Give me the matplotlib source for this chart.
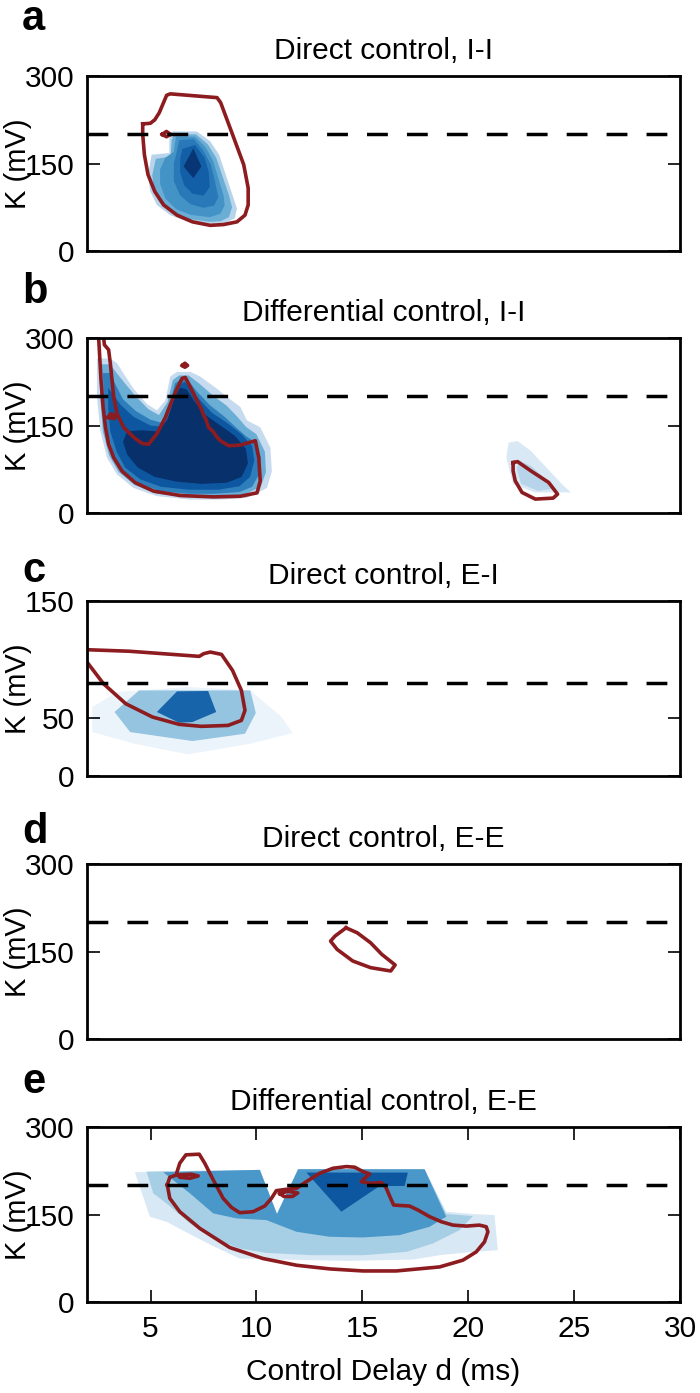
import matplotlib.pyplot as plt
import numpy as np

plt.rcParams['font.family'] = ['Liberation Sans', 'DejaVu Sans']

# shared x axis (control delay d, ms)
d_range = [2, 30]
d_ticks = [5, 10, 15, 20, 25, 30]

letters = ['a', 'b', 'c', 'd', 'e']
titles = ['Direct control, I-I', 'Differential control, I-I', 'Direct control, E-I',
          'Direct control, E-E', 'Differential control, E-E']
k_max = [300, 300, 150, 300, 300]
k_ticks = [[0, 150, 300], [0, 150, 300], [0, 50, 150], [0, 150, 300], [0, 150, 300]]
k_threshold = [200, 200, 80, 200, 200]

# ---- panel a: direct control I-I ----
a_levels = [0.3, 0.5, 0.62, 0.72, 0.82, 0.98]
a_fills = [
    [(6.04, 205), (7.19, 205), (7.82, 188), (8.24, 165), (8.56, 130), (8.87, 96), (9.08, 73),
     (8.98, 56), (8.45, 47), (7.82, 45.4), (6.77, 50), (5.93, 61.5), (5.30, 79), (4.99, 102),
     (4.88, 130), (5.05, 165), (5.89, 168), (5.89, 194), (6.04, 205)],
    [(6.1, 200), (7.15, 200), (7.7, 183), (8.1, 160), (8.4, 128), (8.7, 96), (8.85, 75), (8.7, 58),
     (8.3, 51), (7.8, 50), (6.8, 55), (6.0, 66), (5.45, 82), (5.15, 105), (5.08, 130), (5.25, 158),
     (5.95, 162), (6.0, 190), (6.1, 200)],
    [(6.2, 196), (7.1, 196), (7.6, 178), (7.95, 155), (8.2, 125), (8.45, 95), (8.5, 78), (8.3, 64),
     (7.8, 58), (6.9, 62), (6.2, 72), (5.7, 90), (5.45, 115), (5.45, 140), (5.7, 160), (6.1, 170),
     (6.2, 196)],
    [(6.35, 190), (7.05, 192), (7.5, 172), (7.85, 148), (8.05, 118), (8.2, 92), (8.0, 78), (7.5, 74),
     (6.9, 80), (6.4, 95), (6.1, 120), (6.1, 150), (6.25, 172), (6.35, 190)],
    [(6.5, 175), (7.1, 182), (7.55, 160), (7.75, 135), (7.8, 110), (7.5, 95), (7.0, 98), (6.6, 112),
     (6.4, 135), (6.4, 158), (6.5, 175)],
    [(6.56, 145), (7.02, 176), (7.40, 145), (7.02, 125), (6.56, 145)],
]
a_red = [
    [(4.63, 218), (4.99, 219), (5.20, 225), (5.41, 237), (5.76, 267), (5.93, 269.5), (8.14, 263),
     (8.31, 254.5), (8.87, 200), (9.40, 148), (9.61, 108), (9.61, 79), (9.46, 61.5), (9.08, 50),
     (8.45, 45.4), (7.82, 44), (6.98, 50), (6.25, 61.5), (5.62, 79), (5.20, 102), (4.88, 131),
     (4.71, 165), (4.63, 200), (4.63, 218)],
    [(5.55, 200), (5.75, 205), (5.95, 200), (5.75, 196), (5.55, 200)],
]

# ---- panel b: differential control I-I ----
b_levels = [0.25, 0.5, 0.7, 0.85, 1.0, 0.15, 0.3]
b_fills = [
    [(2.47, 265), (3.10, 265), (3.42, 257), (3.73, 239), (4.20, 213), (4.83, 187), (5.30, 176),
     (5.70, 193), (5.93, 234), (6.25, 242), (6.88, 242), (7.35, 234), (8.14, 213), (8.61, 199),
     (9.24, 182), (9.55, 159), (10.18, 147), (10.66, 112), (10.73, 72), (10.50, 43), (9.55, 26),
     (8.30, 23), (6.88, 23), (5.30, 29), (4.20, 43), (3.42, 66), (2.94, 95), (2.63, 141),
     (2.47, 200), (2.47, 265)],
    [(2.6, 255), (3.1, 255), (3.4, 240), (3.8, 222), (4.3, 200), (4.9, 178), (5.4, 168), (5.8, 190),
     (6.05, 228), (6.35, 236), (6.8, 236), (7.3, 222), (8.0, 200), (8.6, 184), (9.1, 165),
     (9.5, 148), (10.0, 135), (10.4, 105), (10.45, 70), (10.2, 45), (9.4, 31), (8.2, 28), (6.8, 28),
     (5.3, 33), (4.25, 48), (3.5, 70), (3.05, 98), (2.75, 140), (2.62, 200), (2.6, 255)],
    [(2.75, 240), (3.1, 240), (3.35, 220), (3.7, 195), (4.3, 175), (5.0, 160), (5.5, 155),
     (5.9, 185), (6.15, 222), (6.45, 230), (6.8, 226), (7.2, 208), (7.8, 185), (8.5, 165),
     (9.0, 148), (9.5, 132), (10.0, 120), (10.2, 95), (10.1, 65), (9.8, 45), (9.2, 36), (8.0, 33),
     (6.8, 33), (5.4, 38), (4.4, 52), (3.7, 72), (3.25, 100), (2.95, 140), (2.8, 190), (2.75, 240)],
    [(3.0, 215), (3.2, 205), (3.6, 185), (4.2, 165), (5.0, 150), (5.6, 148), (6.0, 180), (6.3, 218),
     (6.6, 225), (6.9, 215), (7.3, 195), (7.9, 172), (8.6, 155), (9.3, 135), (9.8, 115), (9.9, 90),
     (9.7, 62), (9.2, 46), (8.2, 40), (6.8, 40), (5.5, 45), (4.5, 58), (3.8, 78), (3.4, 105),
     (3.1, 140), (3.0, 180), (3.0, 215)],
    [(3.9, 140), (4.6, 142), (5.3, 140), (5.8, 160), (6.1, 195), (6.4, 215), (6.7, 212), (7.1, 190),
     (7.6, 168), (8.3, 150), (9.0, 132), (9.5, 110), (9.6, 85), (9.3, 62), (8.6, 52), (7.4, 50),
     (6.2, 54), (5.2, 62), (4.4, 78), (3.9, 100), (3.7, 122), (3.9, 140)],
    [(22.33, 123.5), (22.43, 120.7), (22.96, 106.5), (23.69, 78), (24.43, 49.5), (24.85, 35.3),
     (23.17, 35.3), (22.12, 49.5), (21.80, 95.1), (21.91, 120.7), (22.33, 123.5)],
    [(22.4, 90), (23.0, 80), (23.6, 60), (24.1, 42), (23.3, 38), (22.5, 50), (22.3, 75), (22.4, 90)],
]
b_red = [
    [(2.55, 300), (2.60, 268), (2.66, 228), (2.76, 182), (2.87, 147), (3.02, 118), (3.26, 95),
     (3.65, 72), (4.28, 52), (5.15, 37.5), (6.41, 30), (7.98, 27.7), (9.24, 28.8), (10.03, 34.6),
     (10.18, 55), (10.11, 95), (9.95, 124), (9.24, 116.5), (8.69, 115.4), (8.30, 124),
     (8.14, 130), (7.95, 140), (7.74, 147), (7.62, 160), (7.48, 170), (7.43, 176), (7.30, 185),
     (7.19, 193), (6.88, 216), (6.64, 232.5), (6.49, 231), (6.25, 213.5), (6.01, 193), (5.70, 164),
     (5.30, 136), (4.91, 118), (4.60, 119.4), (4.20, 130), (3.73, 147), (3.42, 170), (3.26, 199),
     (3.18, 228), (3.10, 257), (3.02, 280), (2.82, 288.5), (2.79, 300)],
    [(3.0, 164), (3.1, 170), (3.35, 168), (3.3, 162), (3.0, 164)],
    [(6.5, 253), (6.62, 257), (6.75, 253), (6.62, 250), (6.5, 253)],
    [(22.12, 86.5), (22.33, 88.2), (22.96, 72.3), (23.80, 52.4), (24.22, 32.4), (24.01, 25.6),
     (23.17, 23.9), (22.54, 35.3), (22.22, 55.2), (22.12, 72.3), (22.12, 86.5)],
]

# ---- panel c: direct control E-I ----
c_levels = [0.06, 0.4, 0.8]
c_fills = [
    [(2.25, 59), (3.41, 72), (6.77, 76.3), (9.71, 73.4), (11.19, 50.6), (11.71, 36.9), (9.71, 27.7),
     (6.77, 18.6), (4.25, 27.7), (2.25, 37.7), (2.25, 59)],
    [(3.30, 54.9), (4.46, 73.4), (9.71, 73.4), (9.97, 54), (9.46, 36.3), (6.98, 30), (4.04, 37.7),
     (3.30, 54.9)],
    [(5.30, 54.9), (6.25, 72.6), (7.72, 72.9), (8.10, 54.9), (6.98, 46.3), (6.35, 45.7),
     (5.30, 54.9)],
]
c_red = [
    [(2.0, 108.3), (4.0, 107), (7.30, 102.6), (7.51, 104.9), (7.82, 106.3), (8.35, 104.3),
     (8.87, 90.6), (9.29, 73.4), (9.46, 56.3), (9.29, 47.7), (8.66, 43.4), (7.40, 42.6),
     (6.35, 44.3), (5.09, 50.6), (3.83, 62), (2.78, 79.1), (2.0, 97.7)],
]

# ---- panel d: direct control E-E ----
d_levels = []
d_fills = []
d_red = [
    [(14.23, 190.7), (14.76, 182.2), (15.39, 165.1), (15.92, 145.2), (16.55, 127), (16.34, 116.7),
     (15.39, 122.4), (14.55, 133.8), (13.81, 153.7), (13.50, 167.9), (13.71, 176.5),
     (14.23, 190.7)],
]

# ---- panel e: differential control E-E ----
e_levels = [0.15, 0.35, 0.6, 0.85]
e_fills = [
    [(4.26, 222.6), (10.16, 226.6), (10.97, 150.9), (11.97, 227.7), (17.94, 227.7), (18.96, 154.9),
     (20.22, 150.9), (21.24, 149.1), (21.40, 88.9), (20.22, 86), (18.65, 80.3), (17.39, 72.8),
     (14.25, 70.6), (11.10, 72.8), (9.21, 74.6), (7.96, 95.8), (6.86, 116.4), (5.75, 137.7),
     (4.97, 146.3), (4.26, 222.6)],
    [(4.81, 223.7), (10.16, 226.6), (10.97, 150.9), (11.97, 227.7), (17.94, 227.7), (18.96, 151),
     (20.22, 147.4), (19.59, 123.3), (18.33, 100.4), (17.08, 86), (15.03, 80.3), (12.67, 80.3),
     (10.47, 84.3), (9.21, 91.8), (7.96, 109), (6.86, 134.8), (5.75, 169.2), (5.13, 186.4),
     (4.81, 223.7)],
    [(5.60, 222.6), (10.16, 226.6), (10.97, 150.9), (11.97, 227.7), (17.94, 227.7), (18.96, 146.3),
     (18.18, 129.1), (16.76, 114.7), (15.03, 110.7), (13.46, 111.9), (11.89, 120.5),
     (10.47, 140.5), (9.06, 143.4), (7.96, 152), (6.86, 186.4), (5.60, 222.6)],
    [(12.36, 222), (17.15, 222), (17.00, 199), (15.82, 199), (14.01, 154.9), (12.36, 222)],
]
e_red = [
    [(5.79, 200.8), (5.91, 213.9), (6.23, 218), (6.93, 219.1), (7.25, 216.2), (6.86, 212.2),
     (6.38, 213.9), (6.23, 220.8), (6.38, 238), (6.67, 252.4), (7.30, 253.5), (7.56, 238),
     (7.96, 209.4), (8.43, 177.8), (8.82, 162.3), (9.21, 153.2), (9.84, 154.9), (10.39, 164.6),
     (10.71, 177.8), (10.94, 191), (11.42, 193.3), (11.89, 195), (12.36, 206.5), (12.99, 220.8),
     (13.62, 229.4), (14.25, 232.3), (14.64, 231.2), (15.03, 223.7), (15.35, 219.7),
     (15.11, 212.2), (14.95, 206.5), (15.35, 203.6), (15.90, 204.8), (16.10, 197.8),
     (16.29, 181.8), (16.48, 166.3), (17.23, 164.6), (17.63, 157.7), (18.18, 146.3),
     (18.73, 137.7), (19.28, 131.9), (19.91, 130.2), (20.53, 131.9), (20.85, 129.1),
     (20.93, 120.5), (20.77, 103.2), (20.38, 86), (19.75, 71.8), (18.65, 60.2), (16.60, 53.3),
     (15.03, 53.3), (13.46, 56.8), (11.89, 63.1), (10.31, 74.6), (8.74, 93.5), (7.33, 126.2),
     (6.38, 154.9), (5.91, 177.8), (5.79, 200.8)],
    [(11.1, 186), (11.5, 190), (11.95, 187), (11.7, 181), (11.3, 181), (11.1, 186)],
]

all_levels = [a_levels, b_levels, c_levels, d_levels, e_levels]
all_fills = [a_fills, b_fills, c_fills, d_fills, e_fills]
all_red = [a_red, b_red, c_red, d_red, e_red]

red = '#8c1c1f'

# axes layout in figure fractions (from the reference)
ax_left, ax_width, ax_height = 0.1243, 0.8471, 0.1256
ax_bottoms = [0.8198, 0.6317, 0.4429, 0.2541, 0.0653]
letter_y = [30, 303, 582, 843, 1093]


def main():
    fig = plt.figure(figsize=(7, 13.93), dpi=100)

    for i in range(5):
        ax = fig.add_axes([ax_left, ax_bottoms[i], ax_width, ax_height])

        # stacked filled regions, light to dark
        for level, shape in zip(all_levels[i], all_fills[i]):
            xs, ys = zip(*shape)
            ax.fill(xs, ys, color=plt.cm.Blues(level), lw=0)

        # red contour outline
        for shape in all_red[i]:
            xs, ys = zip(*shape)
            ax.plot(xs, ys, color=red, lw=2.6, solid_joinstyle='round')

        # threshold line
        ax.plot(d_range, [k_threshold[i]] * 2, color='black', lw=2.5, ls=(0, (6, 5.5)))

        ax.set_xlim(d_range)
        ax.set_ylim(0, k_max[i])
        ax.set_yticks(k_ticks[i])
        for sp in ax.spines.values():
            sp.set_linewidth(2)
        ax.tick_params(direction='in', length=9, width=1.2, labelsize=21.5, pad=9, right=True)
        if i < 4:
            ax.set_xticks([])
        else:
            ax.set_xticks(d_ticks)
            ax.tick_params(top=True)
            ax.set_xlabel('Control Delay d (ms)', fontsize=21.5, labelpad=11)

        ax.set_title(titles[i], fontsize=21.5, pad=12)
        ax.set_ylabel('K (mV)', fontsize=21)
        ax.yaxis.set_label_coords(-0.092, 0.5)

        fig.text(22 / 700, 1 - letter_y[i] / 1393, letters[i], fontsize=30,
                 fontweight='bold', va='baseline', ha='left')

    fig.savefig('out.png', dpi=100)


if __name__ == "__main__":
    main()
